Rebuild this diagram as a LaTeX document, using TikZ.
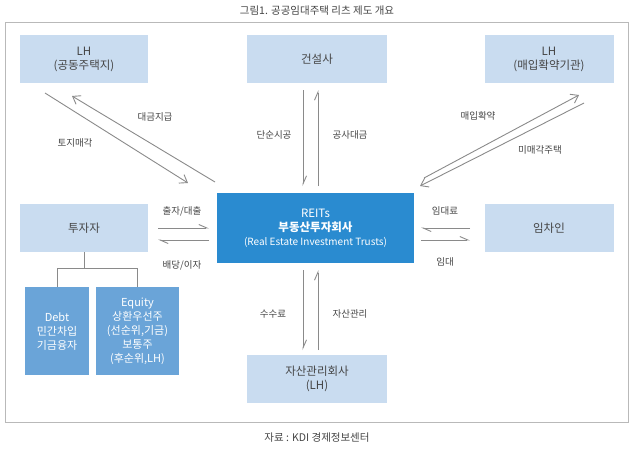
\documentclass[tikz,border=0pt]{standalone}
\usepackage{fontspec}
\setmainfont{Noto Sans CJK KR}
\usetikzlibrary{arrows.meta}
\definecolor{lbox}{HTML}{C9DCF0}
\definecolor{mbox}{HTML}{2A8BD0}
\definecolor{sbox}{HTML}{6AA4D8}
\definecolor{ln}{HTML}{8A8A8A}
\definecolor{tx}{HTML}{444444}
\tikzset{
 lb/.style={draw=none,fill=lbox,text=tx,minimum width=128pt,minimum height=48pt,align=center,font=\fontsize{11.5}{14}\selectfont,inner sep=0pt},
 sb/.style={fill=sbox,text=white,align=center,font=\fontsize{11}{14}\selectfont,inner sep=0pt,anchor=north},
 ar/.style={draw=ln,line width=0.9pt,-{Straight Barb[left,length=8pt,width=7pt]}},
 ard/.style={draw=ln,line width=0.9pt,-{Straight Barb[length=7pt,width=10pt]}},
 lab/.style={text=tx,font=\fontsize{9.5}{11}\selectfont},
}
\begin{document}
\begin{tikzpicture}[x=1pt,y=-1pt]
\useasboundingbox (0,0) rectangle (634,451);
\node[text=tx,font=\fontsize{10.5}{12}\selectfont] (title) at (317,11) {그림1. 공공임대주택 리츠 제도 개요};
\draw[draw=ln!60,line width=0.6pt] (5,22) rectangle (628,422);
\node[text=tx,font=\fontsize{10.5}{12}\selectfont] (src) at (317,438) {자료 : KDI 경제정보센터};
\node[lb] (lh1) at (84,59) {LH\\(공동주택지)};
\node[lb,minimum width=140pt] (con) at (317,59) {건설사};
\node[lb,minimum width=129pt] (lh2) at (549,59) {LH\\(매입확약기관)};
\node[lb] (inv) at (84,228) {투자자};
\node[lb,minimum width=129pt] (ten) at (549,228) {임차인};
\node[lb,minimum width=140pt] (amc) at (317,379) {자산관리회사\\(LH)};
\node[fill=mbox,text=white,minimum width=197pt,minimum height=70pt,align=center,inner sep=0pt,font=\fontsize{11.5}{14}\selectfont] (reit) at (315.5,228) {REITs\\\textbf{부동산투자회사}\\{\fontsize{10}{13}\selectfont(Real Estate Investment Trusts)}};
\node[sb,minimum width=64pt,minimum height=88pt] (debt) at (57,287) {Debt\\민간차입\\기금융자};
\node[sb,minimum width=83pt,minimum height=88pt] (eq) at (137.5,287) {Equity\\상환우선주\\(선순위,기금)\\보통주\\(후순위,LH)};
\coordinate (t1) at (84,268);
\draw[ln,line width=1pt] (inv.south) -- (t1) (57,268) -- (137.5,268) (57,268) -- (debt.north) (137.5,268) -- (eq.north);
\draw[ard] (215,182) -- (72,96);
\draw[ard] (45,93) -- (188,183);
\node[lab] (l1) at (155,117) {대금지급};
\node[lab] (l2) at (75,143) {토지매각};
\draw[ard] (424,178) -- (579,95);
\draw[ard] (584,103) -- (420,186);
\node[lab] (l3) at (478,116) {매입확약};
\node[lab] (l4) at (540,150) {미매각주택};
\draw[ar] (303,90) -- (303,186);
\draw[ar] (318,186) -- (318,90);
\node[lab] (l5) at (274,135) {단순시공};
\node[lab] (l6) at (350,135) {공사대금};
\draw[ar] (303,270) -- (303,350);
\draw[ar] (318,350) -- (318,270);
\node[lab] (l7) at (273,314) {수수료};
\node[lab] (l8) at (350,314) {자산관리};
\draw[ar] (158,228) -- (209,228);
\draw[ar] (209,240) -- (158,240);
\node[lab] (l9) at (182,211) {출자/대출};
\node[lab] (l10) at (182,265) {배당/이자};
\draw[ar] (470,228) -- (421,228);
\draw[ar] (421,240) -- (470,240);
\node[lab] (l11) at (445,211) {임대료};
\node[lab] (l12) at (445,262) {임대};
\end{tikzpicture}
\end{document}
